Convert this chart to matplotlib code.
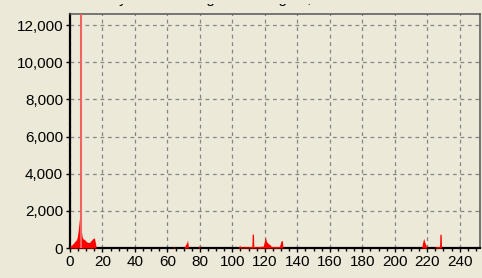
import matplotlib.pyplot as plt
from matplotlib.ticker import MultipleLocator, FuncFormatter
from matplotlib.transforms import Bbox

# spectrum values (x = channel, y = counts)
spec_x = [0, 1, 2, 3, 4, 4.5, 5, 5.5, 6.2, 6.6, 7, 7.5, 8, 9, 10, 11, 12, 13, 14, 15, 15.6, 16.2,
          63.4, 64, 64.6,
          70, 71, 72, 72.4, 73,
          79, 79.6, 80.2,
          103.5, 104.5, 105, 110, 112, 112.2, 113.0, 113.2, 115, 119, 119.8, 120.3, 121, 122, 123.5, 124,
          129, 130.0, 130.8, 131.2,
          216.5, 217.2, 217.8, 218.5, 219.5, 220, 224.5, 225, 227.6, 227.8, 228.6, 228.8]
spec_y = [100, 150, 250, 350, 450, 600, 900, 1300, 1900, 1500, 900, 600, 500, 450, 350, 300, 300, 400, 500, 550, 300, 0,
          0, 80, 0,
          0, 150, 300, 430, 0,
          0, 150, 0,
          0, 150, 60, 70, 80, 750, 750, 80, 70, 100, 400, 600, 350, 250, 150, 80,
          80, 390, 390, 0,
          0, 300, 520, 300, 100, 0, 0, 70, 70, 740, 740, 0]

# off-scale spike
spike_x = [6.8]
spike_y = [20000]

x_ticks = list(range(0, 241, 20))
y_ticks = list(range(0, 12001, 2000))

bg = '#ECE9D8'
plt.rcParams['font.family'] = ['Liberation Sans', 'DejaVu Sans']
fig = plt.figure(figsize=(4.82, 2.78), dpi=100, facecolor=bg)
ax = fig.add_axes([70 / 482, 30 / 278, 410 / 482, 234 / 278])
ax.set_facecolor(bg)

ax.fill_between(spec_x, 0, spec_y, color='#ff0000', linewidth=0, zorder=3)
ax.vlines(spike_x, 0, spike_y, color='#f26060', linewidth=1.5, zorder=3)

ax.set_xlim(0, 252.5)
ax.set_ylim(0, 12600)
ax.set_xticks(x_ticks)
ax.set_yticks(y_ticks)
ax.xaxis.set_minor_locator(MultipleLocator(5))
ax.yaxis.set_major_formatter(FuncFormatter(lambda v, p: '{:,.0f}'.format(v)))

ax.grid(True, which='major', color='#858585', linestyle=(0, (3, 3)), linewidth=0.9, zorder=1)
ax.set_axisbelow(True)

ax.tick_params(axis='both', which='major', direction='out', length=3, width=1, colors='black',
               labelsize=11, pad=2)
ax.tick_params(axis='x', which='minor', direction='out', length=2, width=1, colors='black')

for side in ['left', 'bottom']:
    ax.spines[side].set_color('black')
    ax.spines[side].set_linewidth(1.6)
for side in ['top', 'right']:
    ax.spines[side].set_color('#555555')
    ax.spines[side].set_linewidth(1.1)

# title, cut off at the top edge so only descenders show
title = fig.text(70 / 482, 1 - 3.5 / 278, 'Intensity of DNA Fragment Lengths, bins',
                 ha='left', va='baseline', fontsize=11, color='black')
title.set_clip_box(Bbox([[0, 278 - 8], [482, 278 - 4]]))

fig.savefig('out.png', dpi=100, facecolor=bg)
